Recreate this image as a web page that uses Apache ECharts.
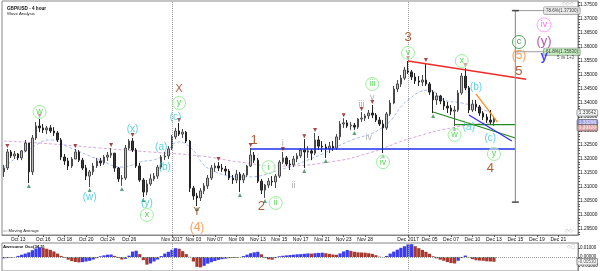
<!DOCTYPE html>
<html><head><meta charset="utf-8">
<script src="https://cdn.jsdelivr.net/npm/echarts@6/dist/echarts.min.js"></script>
<style>html,body{margin:0;padding:0;background:#fff}#c{width:600px;height:271px}</style>
</head><body><div id="c"></div>
<script>
// ---------- DATA (8-hour candles, GBP/USD) ----------
const totalSlots = 161;
const firstOpen = 1.3154;
const close = [1.3168,1.3225,1.3211,1.3218,1.3204,1.3229,1.3257,1.3154,1.3275,1.3318,
1.3311,1.3304,1.3311,1.3300,1.3293,1.3268,1.3207,1.3193,1.3175,1.3200,
1.3225,1.3196,1.3168,1.3139,1.3154,1.3175,1.3193,1.3186,1.3207,1.3214,
1.3221,1.3168,1.3129,1.3132,1.3239,1.3264,1.3232,1.3175,1.3125,1.3082,
1.3111,1.3129,1.3139,1.3171,1.3207,1.3211,1.3236,1.3279,1.3300,1.3289,
1.3296,1.3264,1.3096,1.3068,1.3061,1.3086,1.3104,1.3132,1.3168,1.3175,
1.3168,1.3164,1.3157,1.3132,1.3125,1.3146,1.3125,1.3143,1.3175,1.3214,
1.3196,1.3121,1.3089,1.3107,1.3121,1.3118,1.3139,1.3189,1.3204,1.3182,
1.3179,1.3200,1.3211,1.3232,1.3225,1.3229,1.3221,1.3268,1.3246,1.3243,
1.3236,1.3246,1.3239,1.3279,1.3325,1.3329,1.3318,1.3321,1.3314,1.3343,
1.3346,1.3354,1.3364,1.3357,1.3339,1.3325,1.3311,1.3361,1.3400,1.3450,
1.3468,1.3489,1.3518,1.3511,1.3493,1.3479,1.3475,1.3482,1.3468,1.3439,
1.3411,1.3425,1.3407,1.3389,1.3382,1.3371,1.3375,1.3436,1.3496,1.3454,
1.3375,1.3396,1.3386,1.3364,1.3350,1.3339,1.3332,1.3343];
const high = [1.3179,1.3236,1.3232,1.3229,1.3221,1.3232,1.3268,1.3257,1.3286,1.3332,
1.3343,1.3325,1.3318,1.3321,1.3314,1.3300,1.3275,1.3218,1.3204,1.3207,
1.3236,1.3232,1.3204,1.3179,1.3161,1.3186,1.3204,1.3204,1.3214,1.3225,
1.3239,1.3221,1.3171,1.3143,1.3250,1.3271,1.3275,1.3239,1.3186,1.3132,
1.3125,1.3146,1.3150,1.3179,1.3214,1.3225,1.3246,1.3286,1.3311,1.3329,
1.3307,1.3300,1.3268,1.3104,1.3079,1.3096,1.3114,1.3143,1.3179,1.3186,
1.3189,1.3182,1.3175,1.3164,1.3143,1.3161,1.3154,1.3150,1.3179,1.3239,
1.3225,1.3204,1.3129,1.3111,1.3132,1.3139,1.3146,1.3196,1.3225,1.3211,
1.3196,1.3211,1.3221,1.3239,1.3271,1.3246,1.3236,1.3293,1.3282,1.3264,
1.3254,1.3261,1.3264,1.3289,1.3336,1.3346,1.3339,1.3332,1.3329,1.3346,
1.3368,1.3361,1.3375,1.3393,1.3364,1.3350,1.3339,1.3368,1.3411,1.3461,
1.3482,1.3500,1.3529,1.3550,1.3518,1.3507,1.3496,1.3500,1.3543,1.3475,
1.3446,1.3436,1.3429,1.3418,1.3404,1.3393,1.3389,1.3446,1.3507,1.3525,
1.3461,1.3411,1.3411,1.3393,1.3371,1.3361,1.3375,1.3350];
const low = [1.3136,1.3161,1.3204,1.3200,1.3196,1.3196,1.3225,1.3114,1.3143,1.3268,
1.3296,1.3293,1.3289,1.3293,1.3282,1.3261,1.3196,1.3179,1.3161,1.3168,
1.3200,1.3189,1.3161,1.3125,1.3100,1.3143,1.3168,1.3175,1.3179,1.3193,
1.3204,1.3154,1.3118,1.3104,1.3125,1.3232,1.3225,1.3168,1.3118,1.3064,
1.3071,1.3104,1.3121,1.3129,1.3164,1.3196,1.3200,1.3232,1.3271,1.3282,
1.3275,1.3257,1.3082,1.3054,1.3032,1.3050,1.3075,1.3093,1.3125,1.3154,
1.3157,1.3154,1.3143,1.3125,1.3111,1.3114,1.3082,1.3114,1.3136,1.3171,
1.3186,1.3114,1.3075,1.3061,1.3096,1.3104,1.3096,1.3132,1.3182,1.3175,
1.3161,1.3171,1.3189,1.3204,1.3168,1.3204,1.3196,1.3214,1.3232,1.3225,
1.3204,1.3221,1.3229,1.3232,1.3268,1.3311,1.3311,1.3304,1.3304,1.3307,
1.3332,1.3336,1.3343,1.3346,1.3332,1.3318,1.3221,1.3304,1.3354,1.3396,
1.3439,1.3457,1.3482,1.3504,1.3482,1.3468,1.3461,1.3461,1.3461,1.3429,
1.3364,1.3393,1.3396,1.3375,1.3364,1.3357,1.3318,1.3368,1.3429,1.3446,
1.3364,1.3368,1.3371,1.3354,1.3339,1.3329,1.3325,1.3318];
const awesomeOsc = [-0.0015,-0.0012,-0.0008,-0.0002,0.0012,0.0025,0.0038,0.0052,0.0075,0.0095,
0.0107,0.0100,0.0092,0.0080,0.0062,0.0038,0.0012,-0.0008,-0.0030,-0.0046,
-0.0055,-0.0060,-0.0057,-0.0050,-0.0042,-0.0028,-0.0012,0.0008,0.0018,0.0026,
0.0028,0.0012,-0.0012,-0.0028,-0.0020,0.0015,0.0060,0.0070,0.0032,-0.0035,
-0.0085,-0.0072,-0.0050,-0.0028,0.0010,0.0038,0.0058,0.0080,0.0098,0.0092,
0.0065,0.0032,0.0002,-0.0050,-0.0110,-0.0115,-0.0098,-0.0074,-0.0058,-0.0045,
-0.0032,-0.0024,-0.0018,-0.0012,-0.0010,-0.0008,-0.0002,0.0010,0.0026,0.0042,
0.0052,0.0058,0.0030,-0.0012,-0.0026,-0.0030,-0.0012,0.0008,0.0014,0.0018,
0.0022,0.0026,0.0030,0.0032,0.0036,0.0040,0.0038,0.0042,0.0045,0.0048,
0.0042,0.0035,0.0028,0.0025,0.0040,0.0062,0.0078,0.0068,0.0058,0.0052,
0.0050,0.0048,0.0042,0.0035,0.0020,0.0004,-0.0002,0.0012,0.0038,0.0060,
0.0082,0.0102,0.0120,0.0140,0.0142,0.0120,0.0098,0.0078,0.0058,0.0036,
0.0008,-0.0015,-0.0030,-0.0042,-0.0056,-0.0068,-0.0072,-0.0042,-0.0012,0.0016,
-0.0004,-0.0024,-0.0036,-0.0040,-0.0042,-0.0048,-0.0050,-0.0053];
const dateLabels = {4:'Oct 13',11:'Oct 16',17:'Oct 18',23:'Oct 20',29:'Oct 24',35:'Oct 26',
 47:'Nov 2017',53:'Nov 03',59:'Nov 07',65:'Nov 09',71:'Nov 13',77:'Nov 15',83:'Nov 17',
 89:'Nov 21',95:'Nov 23',101:'Nov 28',113:'Dec 2017',119:'Dec 05',125:'Dec 07',131:'Dec 10',
 137:'Dec 13',143:'Dec 15',149:'Dec 19',155:'Dec 21'};
const periodStarts = [47, 113];
const priceTicks = [1.295,1.300,1.305,1.310,1.315,1.320,1.325,1.330,1.335,1.340,1.345,1.350,1.355,1.360,1.365,1.370,1.375];
const aoTicks = [-0.01, 0, 0.01];
const maSlow = [[0,1.3264],[10,1.3257],[27,1.3239],[41,1.3225],[55,1.3211],[66,1.3189],[77,1.3175],[91,1.3189],[102,1.3221],[114,1.3275],[128,1.3318],[137,1.3329]];
const maFast = [[0,1.3171],[9,1.3250],[13,1.3268],[18,1.3243],[27,1.3196],[33,1.3171],[38,1.3189],[44,1.3207],[49,1.3261],[52,1.3243],[58,1.3161],[68,1.3136],[77,1.3161],[87,1.3207],[96,1.3261],[106,1.3314],[113,1.3411],[119,1.3446],[123,1.3411],[128,1.3400],[133,1.3382],[137,1.3357]];
const fractalHighIdx = [1,10,20,30,36,49,60,69,78,84,87,95,100,103,113,118,129];
const fractalLowIdx = [7,24,33,39,54,66,73,84,90,98,106,120,126];
// trend lines [index, price]
const redLine = [[113,1.3550],[146,1.3485]];
const orangeLine = [[132,1.3432],[138,1.3332]];
const greenSlope = [[120,1.3368],[143,1.3275]];
const greenFlat = [[126,1.3323],[143,1.3323]];
const blueSlope = [[130,1.3357],[142,1.3264]];
const blueFlat = [[69,1.3236],[143,1.3236]];
const targetRange = [[143,1.3046],[143,1.3730]];
const fibTop = [[143,1.3730],[155,1.3730]];
const fibMid = [[143,1.3583],[155,1.3583]];
const fibLabels = [['78.6%(1.37300)',156,1.3730,'#e8e8e8'],['61.8%(1.35830)',156,1.3583,'#b8e6b0']];
const noteLabel = [['5 vs 1+3',157,1.3561]];
const priceTags = [['1.33642',1.3365,'#ffffff','#000'],['1.33296',1.3330,'#8c8cdc','#fff'],['1.33120',1.3312,'#e0a0a0','#fff']];
const aoTag = [['-0.00530',-0.0053]];
// wave labels [text, index, price]
const wavesBrown = [['3',113,1.3636],['1',70,1.3268],['2',72,1.3032],['4',136,1.3168],['5',144,1.3514]];
const wavesBrownXY = [['X',49,1.3450],['Y',54,1.3011]];
const wavesOrange = [['(4)',54,1.2954],['(5)',144,1.3568]];
const wavesGreenCircle = [['w',10,1.3368],['x',40,1.3000],['y',49,1.3400],['i',74,1.3171],['ii',76,1.3043],['iii',103,1.3468],['iv',106,1.3189],['v',113,1.3579],['w',126,1.3286],['x',128,1.3550],['y',137,1.3218]];
const wavesCyan = [['(w)',24,1.3064],['(x)',36,1.3307],['(y)',40,1.3043],['(a)',44,1.3243],['(b)',45,1.3171],['(c)',48,1.3350],['(a)',130,1.3314],['(b)',132,1.3457],['(c)',136,1.3275]];
const wavesGray = [['i',78,1.3257],['ii',81,1.3104],['iii',100,1.3393],['iv',102,1.3275],['v',103,1.3418]];
const wavesDarkGreenCircle = [['c',144,1.3618]];
const wavesPinkCircle = [['iv',151,1.3679]];
const wavesPurple = [['(y)',151,1.3621]];
const wavesBlue = [['y',151,1.3568]];

// ---------- BUILD ----------
const FONT = 'Liberation Sans, Arial, sans-serif';
const cats = Array.from({length: totalSlots}, (_, i) => String(i));
const candles = close.map((c, i) => [i === 0 ? firstOpen : close[i - 1], c, low[i], high[i]]);
const aoData = awesomeOsc.map((v, i) => ({value: v, itemStyle: {color: (i > 0 && v < awesomeOsc[i - 1]) ? '#a8392f' : '#3b3bef'}}));
const minorPriceTicks = [];
for (let k = 1293; k <= 1376; k++) minorPriceTicks.push(k / 1000);

function seg(data, color, width, extra) {
  return Object.assign({type: 'line', xAxisIndex: 0, yAxisIndex: 0, data, symbol: 'none', silent: true, z: 6,
    lineStyle: {color, width}}, extra || {});
}
function textSeries(items, color, size, opt) {
  opt = opt || {};
  return {
    type: 'scatter', xAxisIndex: 0, yAxisIndex: 0, silent: true, z: 30,
    symbol: 'circle', symbolSize: opt.circle ? (opt.size || 13) : 0,
    itemStyle: opt.circle ? {color: 'rgba(255,255,255,0.6)', borderColor: opt.circle, borderWidth: 1} : {color: 'transparent'},
    label: {show: true, position: 'inside', formatter: p => p.name, color, fontSize: size,
      fontWeight: opt.bold ? 'bold' : 'normal', fontFamily: opt.family || FONT},
    data: items.map(d => ({name: d[0], value: [d[1], d[2]]}))
  };
}

const option = {
  animation: false,
  textStyle: {fontFamily: FONT},
  title: {text: 'GBP/USD - 4 hour', subtext: 'Wave Analysis', left: 2, top: 1, itemGap: 1,
    textStyle: {fontSize: 4.6, fontWeight: 'bold', color: '#111'},
    subtextStyle: {fontSize: 4.3, color: '#222'}},
  graphic: [
    {type: 'text', left: 3, top: 229, style: {text: '\u25ab\u25ab\u25ab Moving Average', fontSize: 4.2, fill: '#222', fontFamily: FONT}},
    {type: 'text', left: 3, top: 245, style: {text: 'Awesome Osc(34,5)', fontSize: 4.4, fontWeight: 'bold', fill: '#111', fontFamily: FONT}},
    {type: 'text', left: 562, top: 1, style: {text: '\u25c7\u25c7\u25c7', fontSize: 5, fill: '#aaa', fontFamily: 'DejaVu Sans'}},
    {type: 'text', left: 565, top: 228, style: {text: '\u25c7\u25c7', fontSize: 5, fill: '#aaa', fontFamily: 'DejaVu Sans'}},
    {type: 'text', left: 567, top: 244, style: {text: '\u25c7\u25a1', fontSize: 5, fill: '#aaa', fontFamily: 'DejaVu Sans'}}
  ],
  grid: [
    {left: 2, right: 22, top: 1, bottom: 36, show: true, borderColor: '#888', borderWidth: 1, backgroundColor: '#fff',
      containLabel: false, outerBoundsMode: 'none'},
    {left: 2, right: 22, top: 243, bottom: 0, show: true, borderColor: '#888', borderWidth: 1,
      containLabel: false, outerBoundsMode: 'none'}
  ],
  xAxis: [
    {type: 'category', gridIndex: 0, data: cats, boundaryGap: true,
      axisLine: {show: true, lineStyle: {color: '#888'}},
      axisTick: {show: true, length: 2, alignWithLabel: true, interval: (idx) => (idx in dateLabels), lineStyle: {color: '#555'}},
      axisLabel: {interval: 0, formatter: (v, idx) => dateLabels[idx] || '', fontSize: 5, color: '#111', margin: 2},
      splitLine: {show: false}},
    {type: 'category', gridIndex: 1, data: cats, boundaryGap: true,
      axisLine: {show: false}, axisTick: {show: false}, axisLabel: {show: false}, splitLine: {show: false}}
  ],
  yAxis: [
    {type: 'value', gridIndex: 0, position: 'right', min: 1.29286, max: 1.37643, scale: true,
      axisLine: {show: true, lineStyle: {color: '#888'}},
      axisTick: {show: true, length: 2, customValues: minorPriceTicks, lineStyle: {color: '#555'}},
      axisLabel: {customValues: priceTicks, formatter: v => v.toFixed(5), fontSize: 4.8, color: '#111', margin: 2},
      splitLine: {show: false}},
    {type: 'value', gridIndex: 1, position: 'right', min: -0.01556, max: 0.01556,
      axisLine: {show: true, lineStyle: {color: '#888'}},
      axisTick: {show: true, length: 2, customValues: aoTicks, lineStyle: {color: '#555'}},
      axisLabel: {customValues: aoTicks, formatter: v => v.toFixed(5), fontSize: 4.5, color: '#111', margin: 2},
      splitLine: {show: false}}
  ],
  series: [
    {type: 'candlestick', xAxisIndex: 0, yAxisIndex: 0, data: candles, barWidth: 2, z: 4,
      itemStyle: {color: '#bdbdbd', color0: '#383838', borderColor: '#4a4a4a', borderColor0: '#222', borderWidth: 1},
      markLine: {silent: true, symbol: 'none', label: {show: false}, lineStyle: {type: 'dotted', color: '#9a9a9a', width: 1},
        data: periodStarts.map(i => ({xAxis: i}))}},
    {type: 'line', xAxisIndex: 0, yAxisIndex: 0, data: maSlow, symbol: 'none', smooth: true, silent: true, z: 3,
      lineStyle: {color: '#d9a6d9', width: 1, type: [3, 2]}},
    {type: 'line', xAxisIndex: 0, yAxisIndex: 0, data: maFast, symbol: 'none', smooth: true, silent: true, z: 3,
      lineStyle: {color: '#a9b9f2', width: 1, type: [3, 2]}},
    seg(blueFlat, '#1f2ff2', 1.6),
    seg(redLine, '#ee2a2a', 1.4),
    seg(orangeLine, '#ff8a1a', 1.2),
    seg(greenSlope, '#1f8a1f', 1.2),
    seg(greenFlat, '#1f8a1f', 1.2),
    seg(blueSlope, '#2a2aff', 1.2),
    seg(targetRange, '#9a9a9a', 1.2),
    seg(fibTop, '#9a9a9a', 1),
    seg(fibMid, '#9a9a9a', 1),
    {type: 'scatter', xAxisIndex: 0, yAxisIndex: 0, silent: true, z: 7, symbol: 'rect', symbolSize: [7, 1.5],
      itemStyle: {color: '#222'}, data: targetRange},
    {type: 'scatter', xAxisIndex: 0, yAxisIndex: 0, silent: true, z: 8, symbol: 'triangle', symbolRotate: 180,
      symbolSize: 4, symbolOffset: [0, -3], itemStyle: {color: '#8b1a1a'},
      data: fractalHighIdx.map(i => [i, high[i]])},
    {type: 'scatter', xAxisIndex: 0, yAxisIndex: 0, silent: true, z: 8, symbol: 'triangle',
      symbolSize: 4, symbolOffset: [0, 3], itemStyle: {color: '#2e8b57'},
      data: fractalLowIdx.map(i => [i, low[i]])},
    {type: 'scatter', xAxisIndex: 0, yAxisIndex: 0, silent: true, z: 9, symbolSize: 0,
      label: {show: true, position: 'inside', formatter: p => p.name, fontSize: 4.5, color: '#111',
        padding: [1, 2], borderColor: '#777', borderWidth: 0.6, borderRadius: 1, backgroundColor: '#eee'},
      data: fibLabels.map(d => ({name: d[0], value: [d[1], d[2]], label: {backgroundColor: d[3]}}))},
    textSeries(noteLabel, '#111', 4.5),
    {type: 'scatter', xAxisIndex: 0, yAxisIndex: 0, silent: true, z: 40, symbolSize: 0,
      label: {show: true, position: 'right', distance: 1, formatter: p => p.name, fontSize: 4.8,
        padding: [0.5, 1.5], borderColor: '#555', borderWidth: 0.6, borderRadius: 1},
      data: priceTags.map(d => ({name: d[0], value: [totalSlots - 1, d[1]], label: {backgroundColor: d[2], color: d[3]}}))},
    textSeries(wavesBrown, '#993300', 13),
    textSeries(wavesBrownXY, '#a0401a', 11, {family: 'DejaVu Sans, sans-serif'}),
    textSeries(wavesOrange, '#ff8833', 12),
    textSeries(wavesGreenCircle, '#33cc33', 9, {circle: '#86e886'}),
    textSeries(wavesCyan, '#33c6d6', 10),
    textSeries(wavesGray, '#9a9a9a', 9),
    textSeries(wavesDarkGreenCircle, '#137a13', 9, {circle: '#2a8a2a'}),
    textSeries(wavesPinkCircle, '#ff44ff', 9, {circle: '#ff88ff', size: 14}),
    textSeries(wavesPurple, '#993399', 13),
    textSeries(wavesBlue, '#1a1aff', 13, {bold: true}),
    {type: 'bar', xAxisIndex: 1, yAxisIndex: 1, data: aoData, barCategoryGap: '10%', silent: true,
      markLine: {silent: true, symbol: 'none', label: {show: false}, lineStyle: {type: 'dotted', color: '#9a9a9a', width: 1},
        data: periodStarts.map(i => ({xAxis: i})).concat([{yAxis: 0}])}},
    {type: 'scatter', xAxisIndex: 1, yAxisIndex: 1, silent: true, z: 40, symbolSize: 0,
      label: {show: true, position: 'right', distance: 1, formatter: p => p.name, fontSize: 4.5, color: '#111',
        backgroundColor: '#fff', padding: [0.5, 1], borderColor: '#333', borderWidth: 0.6},
      data: aoTag.map(d => ({name: d[0], value: [totalSlots - 1, d[1]]}))}
  ]
};
const chart = echarts.init(document.getElementById('c'), null, {renderer: 'canvas'});
chart.setOption(option);
</script></body></html>
